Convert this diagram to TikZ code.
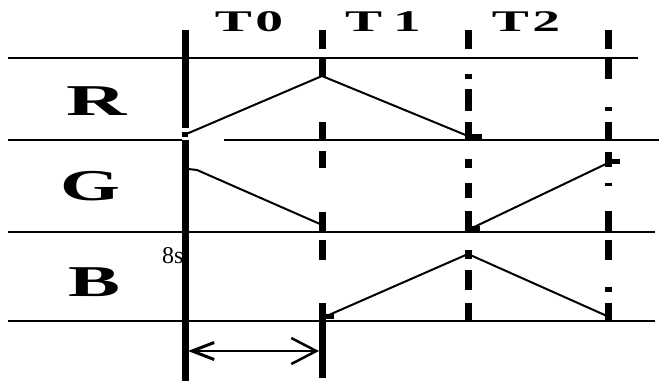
\documentclass[tikz,border=0pt]{standalone}
\usepackage{fontspec}
\setmainfont{Liberation Serif}
\usetikzlibrary{arrows.meta}
\tikzset{
  hline/.style={line width=2pt},
  ramp/.style={line width=2pt},
  vbar/.style={line width=7pt},
  biglabel/.style={inner sep=0pt, font=\fontsize{44}{44}\selectfont\bfseries},
  toplabel/.style={inner sep=0pt, font=\fontsize{30}{30}\selectfont\bfseries},
  smalllabel/.style={inner sep=0pt, font=\fontsize{24}{24}\selectfont},
  foot/.style={fill=black, draw=none}
}
\begin{document}
\begin{tikzpicture}[x=1pt,y=-1pt]
\useasboundingbox (0,0) rectangle (659,381);
% labels
\node[toplabel] (t0) at (249,22) {\scalebox{1.85}[1]{T\hspace{2pt}0}};
\node[toplabel] (t1) at (383,22) {\scalebox{1.85}[1]{T\hspace{6pt}1}};
\node[toplabel] (t2) at (526,22) {\scalebox{1.85}[1]{T\hspace{2pt}2}};
\node[biglabel] (r) at (97,101) {\scalebox{1.9}[1]{R}};
\node[biglabel] (g) at (90,186) {\scalebox{1.75}[1]{G}};
\node[biglabel] (b) at (94,282) {\scalebox{1.77}[1]{B}};
\node[smalllabel, anchor=west] (eight) at (162,256) {8s};
% horizontal lines
\coordinate (h1a) at (8,58);   \coordinate (h1b) at (638,58);
\coordinate (h2a) at (8,140);  \coordinate (h2b) at (182,140);
\coordinate (h2c) at (224,140); \coordinate (h2d) at (659,140);
\coordinate (h3a) at (8,232);  \coordinate (h3b) at (655,232);
\coordinate (h4a) at (8,321);  \coordinate (h4b) at (655,321);
\draw[hline] (h1a) -- (h1b);
\draw[hline] (h2a) -- (h2b);
\draw[hline] (h2c) -- (h2d);
\draw[hline] (h3a) -- (h3b);
\draw[hline] (h4a) -- (h4b);
% main solid vertical
\coordinate (m1) at (185,30); \coordinate (m2) at (185,128);
\coordinate (m3) at (185,140); \coordinate (m4) at (185,381);
\draw[vbar] (m1) -- (m2);
\draw[vbar] (m3) -- (m4);
% dashed verticals
\foreach \a/\b in {30/49,58/77,122/140,151/168,212/232,240/260,303/378}
  \draw[vbar] (322,\a) -- (322,\b);
\foreach \a/\b in {30/49,74/79,89/111,122/140,159/168,183/198,211/232,250/259,270/290,303/321}
  \draw[vbar] (468,\a) -- (468,\b);
\foreach \a/\b in {30/49,58/79,107/111,122/140,152/167,183/186,211/232,240/260,287/292,303/321}
  \draw[vbar] (608,\a) -- (608,\b);
% ramps
\coordinate (r0) at (184,135); \coordinate (r1) at (322,76); \coordinate (r2) at (468,136);
\draw[ramp] (r0) -- (r1) -- (r2);
\coordinate (g0) at (188,169); \coordinate (g0b) at (197,170); \coordinate (g1) at (320,224);
\draw[ramp] (g0) -- (g0b) -- (g1);
\coordinate (g2) at (470,229); \coordinate (g3) at (608,163);
\draw[ramp] (g2) -- (g3);
\coordinate (b0) at (322,318); \coordinate (b1) at (468,254); \coordinate (b2) at (607,316);
\draw[ramp] (b0) -- (b1) -- (b2);
% ramp feet
\fill[foot] (466,134) rectangle (482,139);
\fill[foot] (466,226) rectangle (480,231);
\fill[foot] (606,159) rectangle (620,164);
\fill[foot] (322,314) rectangle (334,319);
\fill[foot] (182,132) rectangle (188,137);
% 8s arrow
\coordinate (a0) at (188,351); \coordinate (a1) at (319,351);
\draw[line width=1.5pt, {Straight Barb[length=22pt,width=17pt,line width=3pt]}-{Straight Barb[length=25pt,width=26pt,line width=2.5pt]}] (a0) -- (a1);
\end{tikzpicture}
\end{document}
